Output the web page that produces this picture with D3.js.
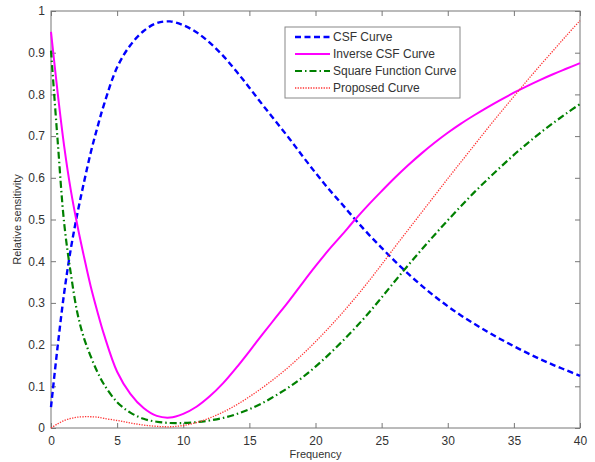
<!DOCTYPE html>
<html>
<head>
<meta charset="utf-8">
<script src="https://cdn.jsdelivr.net/npm/d3@7"></script>
<style>
  body { margin: 0; background: #fff; }
  text { font-family: Arial, "Liberation Sans", sans-serif; fill: #333; }
</style>
</head>
<body>
<div id="vis"></div>
<script>
// frequencies
const freq = [0, 0.5, 1, 1.5, 2, 2.5, 3, 3.5, 4, 5, 6, 7, 8, 9, 10, 11, 12, 13, 14, 15,
  16, 17, 18, 19, 20, 21, 22, 23, 24, 25, 26, 27, 28, 29, 30, 31, 32, 33, 34, 35,
  36, 37, 38, 39, 40];

const csf = [0.05, 0.195, 0.325, 0.43, 0.515, 0.59, 0.66, 0.72, 0.775, 0.865, 0.918, 0.952,
  0.971, 0.975, 0.966, 0.949, 0.924, 0.893, 0.856, 0.816, 0.775, 0.735, 0.695, 0.653,
  0.612, 0.573, 0.537, 0.5, 0.465, 0.432, 0.4, 0.37, 0.342, 0.316, 0.292, 0.27, 0.25,
  0.231, 0.213, 0.196, 0.18, 0.165, 0.151, 0.138, 0.125];

const inverseCsf = [0.95, 0.805, 0.675, 0.57, 0.485, 0.41, 0.34, 0.28, 0.225, 0.135, 0.082,
  0.048, 0.029, 0.025, 0.034, 0.051, 0.076, 0.107, 0.144, 0.184, 0.225, 0.265, 0.305,
  0.347, 0.388, 0.427, 0.463, 0.5, 0.535, 0.568, 0.6, 0.63, 0.658, 0.684, 0.708, 0.73,
  0.75, 0.769, 0.787, 0.804, 0.82, 0.835, 0.849, 0.862, 0.875];

const squareFn = [0.905, 0.69, 0.49, 0.37, 0.275, 0.215, 0.172, 0.135, 0.105, 0.062, 0.037,
  0.022, 0.015, 0.012, 0.012, 0.014, 0.018, 0.024, 0.033, 0.045, 0.06, 0.078, 0.098,
  0.121, 0.147, 0.176, 0.207, 0.24, 0.275, 0.313, 0.352, 0.39, 0.427, 0.463, 0.498,
  0.532, 0.565, 0.596, 0.626, 0.655, 0.682, 0.708, 0.732, 0.755, 0.777];

const proposed = [0, 0.01, 0.018, 0.023, 0.026, 0.027, 0.027, 0.026, 0.023, 0.018, 0.012,
  0.007, 0.004, 0.003, 0.006, 0.013, 0.024, 0.038, 0.055, 0.075, 0.097, 0.121, 0.147,
  0.176, 0.207, 0.24, 0.275, 0.312, 0.351, 0.392, 0.434, 0.475, 0.516, 0.557, 0.598,
  0.638, 0.678, 0.718, 0.757, 0.795, 0.833, 0.87, 0.906, 0.942, 0.977];

const xTicks = [0, 5, 10, 15, 20, 25, 30, 35, 40];
const yTicks = [0, 0.1, 0.2, 0.3, 0.4, 0.5, 0.6, 0.7, 0.8, 0.9, 1];

const series = [
  { name: "CSF Curve", values: csf, color: "#0000ff", width: 2.4, dash: "6,3.5" },
  { name: "Inverse CSF Curve", values: inverseCsf, color: "#ff00ff", width: 2, dash: null },
  { name: "Square Function Curve", values: squareFn, color: "#008000", width: 2.2, dash: "7,3,1.5,3" },
  { name: "Proposed Curve", values: proposed, color: "#ff3333", width: 1.3, dash: "1.3,1.3" }
];

const W = 595, H = 462;
const margin = { top: 11, right: 15, bottom: 34, left: 51 };
const width = W - margin.left - margin.right;
const height = H - margin.top - margin.bottom;

const svg = d3.select("#vis").append("svg")
  .attr("width", W)
  .attr("height", H);

const g = svg.append("g")
  .attr("transform", "translate(" + margin.left + "," + margin.top + ")");

const x = d3.scaleLinear().domain([0, 40]).range([0, width]);
const y = d3.scaleLinear().domain([0, 1]).range([height, 0]);

// box + inward ticks on all four sides
g.append("rect")
  .attr("width", width).attr("height", height)
  .attr("fill", "none").attr("stroke", "#777").attr("stroke-width", 1);

const fmt = d => String(d);

g.append("g")
  .attr("transform", "translate(0," + height + ")")
  .call(d3.axisBottom(x).tickValues(xTicks).tickSize(-5).tickPadding(8).tickFormat(fmt));
g.append("g")
  .call(d3.axisTop(x).tickValues(xTicks).tickSize(-5).tickFormat(""));
g.append("g")
  .call(d3.axisLeft(y).tickValues(yTicks).tickSize(-5).tickPadding(6).tickFormat(fmt));
g.append("g")
  .attr("transform", "translate(" + width + ",0)")
  .call(d3.axisRight(y).tickValues(yTicks).tickSize(-5).tickFormat(""));

g.selectAll(".domain").remove();
g.selectAll(".tick line").attr("stroke", "#777");
g.selectAll(".tick text").attr("font-size", 12).attr("fill", "#333");

// curves
const line = d3.line()
  .x((d, i) => x(freq[i]))
  .y(d => y(d))
  .curve(d3.curveCatmullRom.alpha(0.5));

g.selectAll(".curve")
  .data(series)
  .enter()
  .append("path")
  .attr("class", "curve")
  .attr("fill", "none")
  .attr("stroke", d => d.color)
  .attr("stroke-width", d => d.width)
  .attr("stroke-dasharray", d => d.dash)
  .attr("d", d => line(d.values));

// axis titles
svg.append("text")
  .attr("x", margin.left + width / 2)
  .attr("y", 458)
  .attr("text-anchor", "middle")
  .attr("font-size", 11)
  .text("Frequency");

svg.append("text")
  .attr("transform", "translate(21," + (margin.top + height / 2) + ") rotate(-90)")
  .attr("text-anchor", "middle")
  .attr("font-size", 11)
  .text("Relative sensitivity");

// legend
const legend = svg.append("g").attr("transform", "translate(285,27)");
legend.append("rect")
  .attr("width", 175).attr("height", 71)
  .attr("fill", "#fff").attr("stroke", "#888");

const item = legend.selectAll(".item")
  .data(series)
  .enter()
  .append("g")
  .attr("transform", (d, i) => "translate(0," + (10 + i * 17) + ")");

item.append("line")
  .attr("x1", 10).attr("x2", 45)
  .attr("stroke", d => d.color)
  .attr("stroke-width", d => d.width)
  .attr("stroke-dasharray", d => d.dash);

item.append("text")
  .attr("x", 48)
  .attr("y", 4)
  .attr("font-size", 12)
  .text(d => d.name);
</script>
</body>
</html>
